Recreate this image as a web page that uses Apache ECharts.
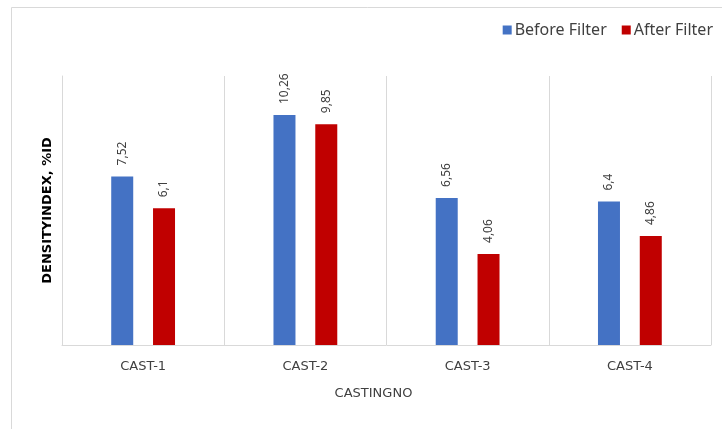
<!DOCTYPE html>
<html>
<head>
<meta charset="utf-8">
<script src="https://cdn.jsdelivr.net/npm/echarts@6/dist/echarts.min.js"></script>
<style>
html,body{margin:0;padding:0;background:#fff;}
#chart{width:722px;height:429px;}
</style>
</head>
<body>
<div id="chart"></div>
<script>
var categories = ['CAST-1', 'CAST-2', 'CAST-3', 'CAST-4'];
var beforeFilter = [7.52, 10.26, 6.56, 6.4];
var afterFilter = [6.1, 9.85, 4.06, 4.86];
var seriesNames = ['Before Filter', 'After Filter'];
var xAxisTitle = 'CASTINGNO';
var yAxisTitle = 'DENSITYINDEX, %ID';

function fmt(v) { return String(v).replace('.', ','); }

var chart = echarts.init(document.getElementById('chart'));
var labelCfg = {
  show: true,
  position: 'top',
  rotate: 90,
  align: 'left',
  verticalAlign: 'middle',
  distance: 11,
  color: '#404040',
  fontSize: 12,
  fontFamily: 'Noto Sans',
  formatter: function (p) { return fmt(p.value); }
};
chart.setOption({
  animation: false,
  backgroundColor: '#fff',
  graphic: [{
    type: 'rect',
    shape: { x: 11.5, y: 7.5, width: 720, height: 430 },
    style: { fill: 'none', stroke: '#d9d9d9', lineWidth: 1 }
  }],
  legend: {
    data: seriesNames,
    top: 17,
    right: 4,
    itemWidth: 9,
    itemHeight: 9,
    itemGap: 15,
    icon: 'rect',
    textStyle: { fontFamily: 'Noto Sans', fontSize: 16, color: '#404040', padding: [0, 0, 0, -2] }
  },
  grid: { left: 62, right: 11, top: 76, bottom: 84 },
  xAxis: {
    type: 'category',
    data: categories,
    name: xAxisTitle,
    nameLocation: 'middle',
    nameGap: 42,
    nameTextStyle: { fontFamily: 'DejaVu Sans', fontSize: 13, color: '#404040', padding: [0, 26, 0, 0] },
    axisLine: { lineStyle: { color: '#d9d9d9' } },
    axisTick: { show: false },
    splitLine: { show: true, lineStyle: { color: '#d9d9d9' } },
    axisLabel: { margin: 15, fontFamily: 'DejaVu Sans', fontSize: 13, color: '#404040' }
  },
  yAxis: {
    type: 'value',
    min: 0,
    max: 12,
    name: yAxisTitle,
    nameLocation: 'middle',
    nameGap: 8,
    nameTextStyle: { fontFamily: 'DejaVu Sans', fontSize: 13, fontWeight: 'bold', color: '#000' },
    axisLine: { show: true, lineStyle: { color: '#d9d9d9' } },
    axisTick: { show: false },
    axisLabel: { show: false },
    splitLine: { show: false }
  },
  series: [{
    name: seriesNames[0],
    type: 'bar',
    data: beforeFilter,
    barWidth: 22,
    barGap: '90%',
    itemStyle: { color: '#4472C4' },
    label: labelCfg
  }, {
    name: seriesNames[1],
    type: 'bar',
    data: afterFilter,
    barWidth: 22,
    itemStyle: { color: '#C00000' },
    label: labelCfg
  }]
});
</script>
</body>
</html>
